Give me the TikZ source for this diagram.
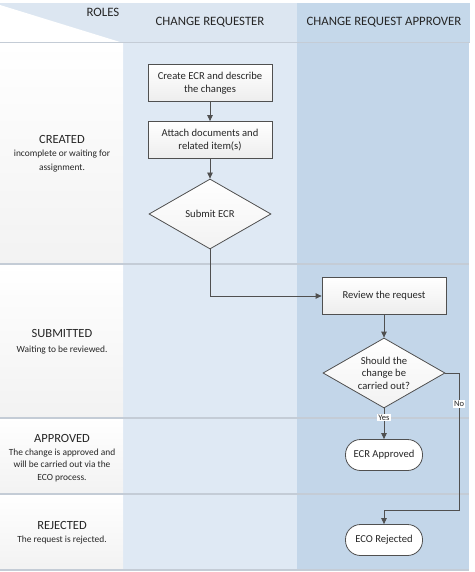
\documentclass[tikz,border=0pt]{standalone}
\usepackage{fontspec}
\setmainfont{Carlito}
\usetikzlibrary{shapes.geometric,arrows.meta}
\definecolor{hdrA}{HTML}{DCE6F1}
\definecolor{hdrB}{HTML}{C5D8EA}
\definecolor{laneA}{HTML}{DFE9F4}
\definecolor{laneB}{HTML}{C3D6E9}
\definecolor{sepc}{HTML}{C4CCD6}
\definecolor{linec}{HTML}{505050}
\definecolor{txt}{HTML}{262626}
\tikzset{
  proc/.style={rectangle, draw=linec, line width=0.8pt, top color=white, bottom color=gray!14,
    minimum width=124pt, minimum height=37pt, align=center, inner sep=2pt,
    font=\fontsize{10.6}{12.5}\selectfont, text=txt},
  decis/.style={diamond, draw=linec, line width=0.8pt, top color=white, bottom color=gray!10,
    aspect=1.75, minimum width=122pt, minimum height=70pt, inner sep=0pt, align=center,
    font=\fontsize{10.6}{12.5}\selectfont, text=txt},
  term/.style={rectangle, rounded corners=15pt, draw=linec, line width=0.8pt, fill=white,
    minimum width=77pt, minimum height=31pt, align=center,
    font=\fontsize{10.6}{12.5}\selectfont, text=txt},
  arr/.style={draw=linec, line width=0.8pt, -{Triangle[width=5.5pt,length=6pt]}},
  lbl/.style={fill=white, inner sep=1pt, font=\fontsize{8.5}{9}\selectfont, text=txt},
  sepline/.style={draw=sepc, line width=1.5pt},
  roletitle/.style={font=\fontsize{12.5}{14}\selectfont, text=txt},
  rolesub/.style={font=\fontsize{9.4}{14}\selectfont, text=txt, align=center},
  hdrtext/.style={font=\fontsize{12.8}{14}\selectfont, text=txt}
}
\begin{document}
\begin{tikzpicture}[x=1pt,y=-1pt]
\useasboundingbox (0,0) rectangle (474,572);
% header
\fill[hdrA] (0,3) rectangle (297,42);
\fill[hdrB] (297,3) rectangle (470,42);
\fill[white] (0,5) -- (120,42) -- (0,42) -- cycle;
% lanes
\fill[laneA] (123,43) rectangle (297,570);
\fill[laneB] (297,43) rectangle (469,570);
% role column rows
\shade[top color=white, bottom color=gray!10] (0,43) rectangle (123,264);
\shade[top color=white, bottom color=gray!10] (0,264) rectangle (123,418);
\shade[top color=white, bottom color=gray!10] (0,418) rectangle (123,494);
\shade[top color=white, bottom color=gray!10] (0,494) rectangle (123,570);
% separators
\draw[sepline] (0,42.5) -- (470,42.5);
\draw[sepline] (0,264) -- (469,264);
\draw[sepline] (0,418) -- (469,418);
\draw[sepline] (0,494) -- (469,494);
\draw[sepline] (0,570) -- (469,570);
% header texts
\node[hdrtext] (hroles) at (103,12) {ROLES};
\node[hdrtext] (hreq) at (210,22) {CHANGE REQUESTER};
\node[hdrtext] (happ) at (384,22) {CHANGE REQUEST APPROVER};
% role texts
\node[roletitle] (tcreated) at (62,139) {CREATED};
\node[rolesub] (screated) at (62,161) {incomplete or waiting for\\assignment.};
\node[roletitle] (tsub) at (62,333) {SUBMITTED};
\node[rolesub] (ssub) at (62,350) {Waiting to be reviewed.};
\node[roletitle] (tapp) at (62,438) {APPROVED};
\node[rolesub,font=\fontsize{9.4}{12.5}\selectfont] (sapp) at (62,465) {The change is approved and\\will be carried out via the\\ECO process.};
\node[roletitle] (trej) at (62,525) {REJECTED};
\node[rolesub] (srej) at (62,540) {The request is rejected.};
% flow nodes
\node[proc] (create) at (210,83) {Create ECR and describe\\the changes};
\node[proc] (attach) at (210,140) {Attach documents and\\related item(s)};
\node[decis] (submit) at (210,214) {Submit ECR};
\node[proc] (review) at (384,296) {Review the request};
\node[decis] (should) at (384,373) {Should the\\change be\\carried out?};
\node[term] (ecra) at (384,455) {ECR Approved};
\node[term] (ecor) at (384,540) {ECO Rejected};
\coordinate (nocorner) at (459,510);
% connectors
\draw[arr] (create) -- (attach);
\draw[arr] (attach) -- (submit);
\draw[arr] (submit.south) |- (review.west);
\draw[arr] (review) -- (should);
\draw[arr] (should.south) -- node[lbl, pos=0.3] {Yes} (ecra.north);
\draw[arr] (should.east) -| (nocorner) -| (ecor.north);
\node[lbl] (nolbl) at (459,404) {No};
\end{tikzpicture}
\end{document}
